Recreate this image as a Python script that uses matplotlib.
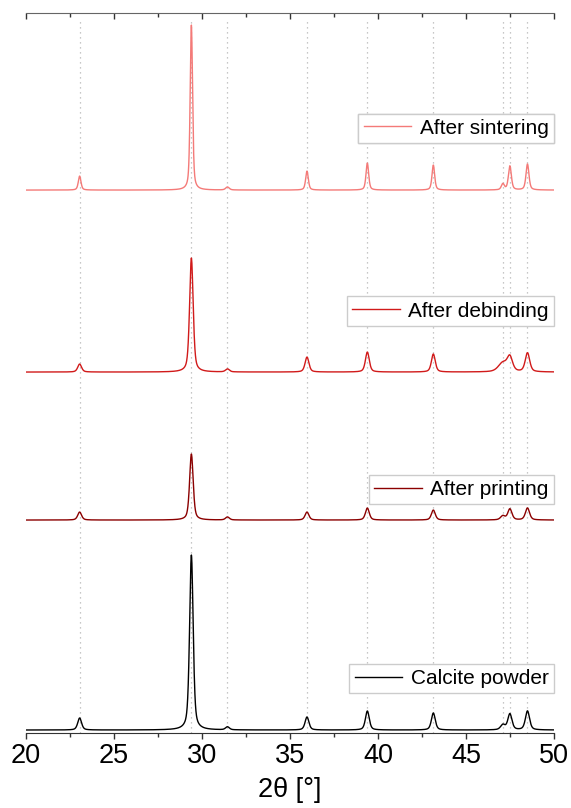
import matplotlib
matplotlib.use('AGG')
import matplotlib.pyplot as plt
import numpy as np

# peak positions (2theta, deg)
peak_pos = [23.05, 29.40, 31.45, 35.97, 39.40, 43.15, 47.10, 47.50, 48.50]

# trace names, colours, vertical offsets (a.u.)
names = ["Calcite powder", "After printing", "After debinding", "After sintering"]
colors = ["#000000", "#8b0000", "#d11a1a", "#f47a78"]
offsets = [3, 213, 361, 543]

# peak heights (a.u.) above baseline, one list per trace, same order as peak_pos
heights = {
    "Calcite powder":  [12, 175, 3, 13, 19, 17, 5, 16, 19],
    "After printing":  [8, 66, 3, 8, 12, 10, 4, 11, 12],
    "After debinding": [8, 114, 3, 15, 20, 18, 9, 14, 19],
    "After sintering": [14, 165, 3, 19, 27, 25, 6, 24, 26],
}
# peak half widths (deg)
widths = {
    "Calcite powder":  [0.13, 0.12, 0.13, 0.13, 0.13, 0.13, 0.15, 0.14, 0.14],
    "After printing":  [0.13, 0.12, 0.13, 0.13, 0.13, 0.13, 0.15, 0.14, 0.14],
    "After debinding": [0.13, 0.12, 0.13, 0.13, 0.13, 0.13, 0.30, 0.18, 0.15],
    "After sintering": [0.09, 0.08, 0.12, 0.09, 0.09, 0.09, 0.10, 0.10, 0.10],
}

x = np.linspace(20, 50, 3001)


def profile(name):
    y = np.zeros_like(x)
    for p, h, w in zip(peak_pos, heights[name], widths[name]):
        y += h * (0.5 / (1 + ((x - p) / w) ** 2) + 0.5 * np.exp(-np.log(2) * ((x - p) / w) ** 2))
    return y


plt.rcParams['font.family'] = ['Liberation Sans', 'DejaVu Sans']

fig = plt.figure(figsize=(5.71, 8.08), dpi=100)
ax = fig.add_axes([0.0455, 0.0928, 0.9245, 0.891])

for p in peak_pos:
    ax.axvline(p, ymin=0.0, ymax=0.99, color='#b5b5b5', ls=(0, (1, 3)), lw=0.9, zorder=0)

leg_y = [0.076, 0.338, 0.586, 0.840]
for name, c, off, ly in zip(names, colors, offsets, leg_y):
    ln, = ax.plot(x, profile(name) + off, color=c, lw=1.0)
    leg = ax.legend(handles=[ln], labels=[name], loc='center right',
                    bbox_to_anchor=(1.0, ly), borderaxespad=0, fontsize=15,
                    handlelength=2.3, handletextpad=0.4, fancybox=False,
                    framealpha=1, edgecolor='#cccccc', borderpad=0.25)
    ax.add_artist(leg)

ax.set_xlim(20, 50)
ax.set_ylim(0, 720)
ax.set_yticks([])
ax.spines['left'].set_visible(False)
ax.spines['right'].set_visible(False)
ax.spines['top'].set_color('#666666')
ax.spines['bottom'].set_color('#333333')
ax.set_xticks(np.arange(20, 51, 5))
ax.set_xticks(np.arange(22.5, 50, 5), minor=True)
ax.tick_params(axis='x', which='both', top=True, direction='out', labelsize=19.5,
               color='#333333', pad=3)
ax.tick_params(axis='x', which='major', length=4, width=1)
ax.tick_params(axis='x', which='minor', length=3, width=1)
# top ticks point into the plot
for t in ax.xaxis.get_major_ticks() + ax.xaxis.get_minor_ticks():
    t.tick2line.set_marker(3)

ax.set_xlabel('2θ [°]', fontsize=19.5, labelpad=6)

fig.savefig('out.png', dpi=100)
